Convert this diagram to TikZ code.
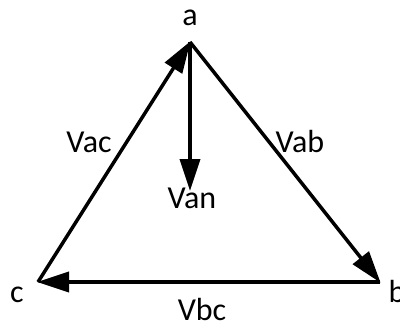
\documentclass[tikz,border=0pt]{standalone}
\usepackage{fontspec}
\setmainfont{Carlito}
\usetikzlibrary{arrows.meta}

\begin{document}
\begin{tikzpicture}[x=1pt,y=-1pt,
  phasor/.style={line width=3.5pt,-{Triangle[length=32pt,width=20pt]},shorten >=-1pt},
  lbl/.style={anchor=base,font=\fontsize{32}{36}\selectfont,inner sep=0pt}]
\useasboundingbox (0,0) rectangle (400,324);
\coordinate (A) at (190,42);
\coordinate (B) at (380,282);
\coordinate (C) at (38,282);
\coordinate (N) at (190,190);
\draw[phasor] (A) -- (B);
\draw[phasor] (B) -- (C);
\draw[phasor] (C) -- (A);
\draw[phasor] (A) -- (N);
\node[lbl] (la) at (190,25) {a};
\node[lbl] (lb) at (397,302) {b};
\node[lbl] (lc) at (17,302) {c};
\node[lbl] (lac) at (89,153) {Vac};
\node[lbl] (lab) at (300,153) {Vab};
\node[lbl] (lan) at (192,208) {Van};
\node[lbl] (lbc) at (202,320) {Vbc};
\end{tikzpicture}
\end{document}
